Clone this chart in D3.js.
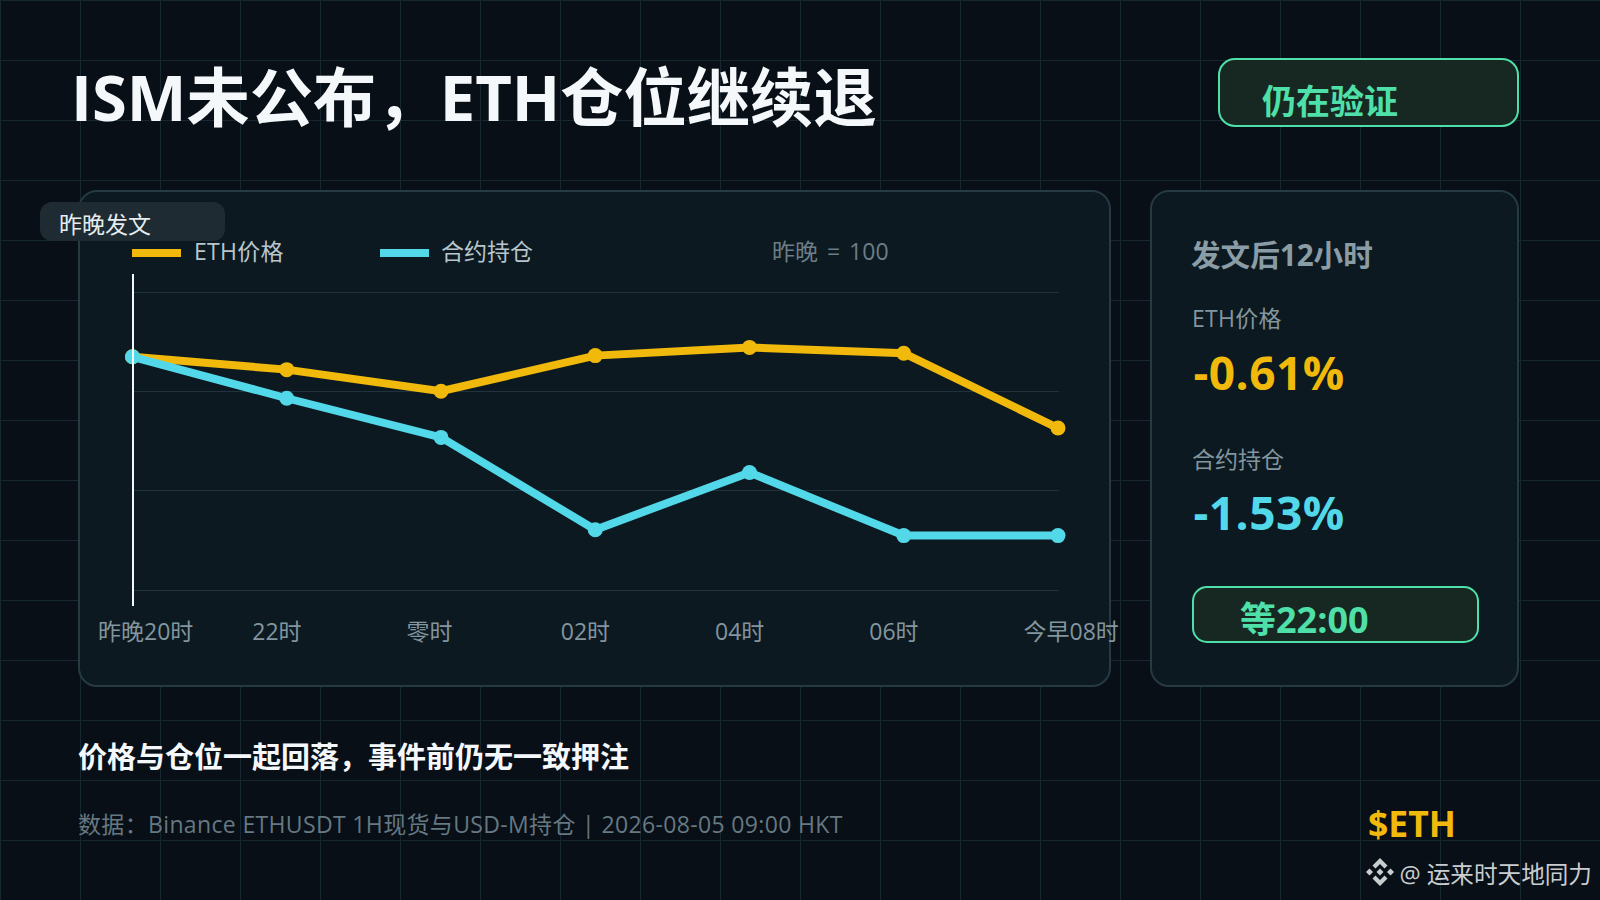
<!DOCTYPE html>
<html>
<head>
<meta charset="utf-8">
<script src="https://cdn.jsdelivr.net/npm/d3@7"></script>
<style>
  html, body { margin: 0; padding: 0; background: #080f17; }
  svg { display: block; }
  text { font-family: "Open Sans", "Noto Sans CJK SC", sans-serif; white-space: pre; }
</style>
</head>
<body>
<svg id="chart" width="1600" height="900"></svg>
<script>
const hours = ['昨晚20时', '22时', '零时', '02时', '04时', '06时', '今早08时'];
const ethPrice = [100, 99.89, 99.705, 100.01, 100.08, 100.03, 99.39];
const openInterest = [100, 99.645, 99.31, 98.52, 99.01, 98.47, 98.47];
const gridValues = [98, 98.855, 99.7, 100.55];

const ethColor = '#f0b90b';
const oiColor = '#52d8e8';
const green = '#4ee0a8';

const svg = d3.select('#chart');

// page grid
svg.append('rect').attr('width', 1600).attr('height', 900).attr('fill', '#080f17');
const bg = svg.append('g').attr('stroke', '#16272f').attr('stroke-width', 1);
d3.range(0, 1600, 80).forEach((x) => {
  bg.append('line').attr('x1', x + 0.5).attr('x2', x + 0.5).attr('y1', 0).attr('y2', 900);
});
d3.range(0, 900, 60).forEach((y) => {
  bg.append('line').attr('x1', 0).attr('x2', 1600).attr('y1', y + 0.5).attr('y2', y + 0.5);
});

function label(x, y, str, size, color, weight) {
  return svg.append('text')
    .attr('x', x).attr('y', y)
    .attr('font-size', size)
    .attr('font-weight', weight || 400)
    .attr('fill', color)
    .text(str);
}

function box(x, y, w, h, r, fill, stroke, sw) {
  return svg.append('rect')
    .attr('x', x).attr('y', y).attr('width', w).attr('height', h).attr('rx', r)
    .attr('fill', fill).attr('stroke', stroke || 'none').attr('stroke-width', sw || 0);
}

label(71, 121, 'ISM未公布，ETH仓位继续退', 63.3, '#f5f8fb', 700);

box(1219, 59, 299, 67, 16, '#172822', green, 2);
label(1262, 113.5, '仍在验证', 34, green, 700);

// panels
box(79, 191, 1031, 495, 18, '#0c1920', '#263a43', 2);
box(1151, 191, 367, 495, 18, '#0c1920', '#263a43', 2);

// chart
const x = d3.scalePoint().domain(hours).range([132.5, 1058]);
const y = d3.scaleLinear().domain([98, 100.55]).range([590.5, 292.5]);

const plot = svg.append('g');

plot.append('g').selectAll('line').data(gridValues).join('line')
  .attr('x1', 134).attr('x2', 1059)
  .attr('y1', (d) => Math.floor(y(d)) + 0.5).attr('y2', (d) => Math.floor(y(d)) + 0.5)
  .attr('stroke', '#20323b').attr('stroke-width', 1);

const axis = d3.axisBottom(x).tickSize(0).tickPadding(0);
const axisG = plot.append('g').attr('transform', 'translate(0,640)').call(axis);
axisG.select('.domain').remove();
axisG.selectAll('text')
  .attr('text-anchor', 'start').attr('dx', -35).attr('dy', 0).attr('y', 0)
  .attr('font-size', 23).attr('fill', '#83959e')
  .style('font-family', '"Open Sans", "Noto Sans CJK SC", sans-serif');

const line = d3.line().x((d, i) => x(hours[i])).y((d) => y(d));

[[ethPrice, ethColor], [openInterest, oiColor]].forEach(([values, color]) => {
  plot.append('path').datum(values)
    .attr('d', line).attr('fill', 'none').attr('stroke', color).attr('stroke-width', 8);
  plot.append('g').selectAll('circle').data(values).join('circle')
    .attr('cx', (d, i) => x(hours[i])).attr('cy', (d) => y(d)).attr('r', 7.5).attr('fill', color);
});

// marker sits on top of the first dot
plot.append('line')
  .attr('x1', 133).attr('x2', 133)
  .attr('y1', 274).attr('y2', 606)
  .attr('stroke', '#f5f8fb').attr('stroke-width', 2);

box(40, 202, 185, 39, 12, '#1e2b33');
label(59, 233, '昨晚发文', 23, '#e6edf0');

// legend
box(132, 249, 49, 8, 0, ethColor);
label(194, 260, 'ETH价格', 23, '#b7c5cc').attr('letter-spacing', 0.3);
box(380, 249, 49, 8, 0, oiColor);
label(441, 260, '合约持仓', 23, '#b7c5cc');
label(772, 260, '昨晚 = 100', 23, '#6c7d86').attr('word-spacing', 3);

// side panel
label(1191, 266, '发文后12小时', 29.6, '#8a9ca5', 700);
label(1192, 327, 'ETH价格', 23, '#83959e').attr('letter-spacing', 0.3);
label(1193.5, 390, '-0.61%', 46, ethColor, 700).attr('letter-spacing', 0.5);
label(1192, 468, '合约持仓', 23, '#83959e');
label(1193.5, 530, '-1.53%', 46, oiColor, 700).attr('letter-spacing', 0.5);
box(1193, 587, 285, 55, 14, '#172822', green, 2);
label(1240, 633, '等22:00', 36, green, 700);

// footer
label(78, 768, '价格与仓位一起回落，事件前仍无一致押注', 29, '#f5f8fb', 700);
label(78, 833, '数据：Binance ETHUSDT 1H现货与USD-M持仓 | 2026-08-05 09:00 HKT', 23, '#667881').attr('letter-spacing', 0.35);
label(1368, 837, '$ETH', 35.5, ethColor, 700);

// watermark
const logo = svg.append('g').attr('transform', 'translate(1380,872)').attr('fill', '#c8cdd0');
['M0,-14L7.5,-6.5L4.5,-3.5L0,-8L-4.5,-3.5L-7.5,-6.5Z',
 'M0,14L7.5,6.5L4.5,3.5L0,8L-4.5,3.5L-7.5,6.5Z',
 'M-14,0L-10.5,-3.5L-7,0L-10.5,3.5Z',
 'M14,0L10.5,-3.5L7,0L10.5,3.5Z',
 'M0,-3.5L3.5,0L0,3.5L-3.5,0Z'].forEach((d) => logo.append('path').attr('d', d));
label(1399.5, 883, '@ 运来时天地同力', 23.6, '#c8cdd0');
</script>
</body>
</html>
